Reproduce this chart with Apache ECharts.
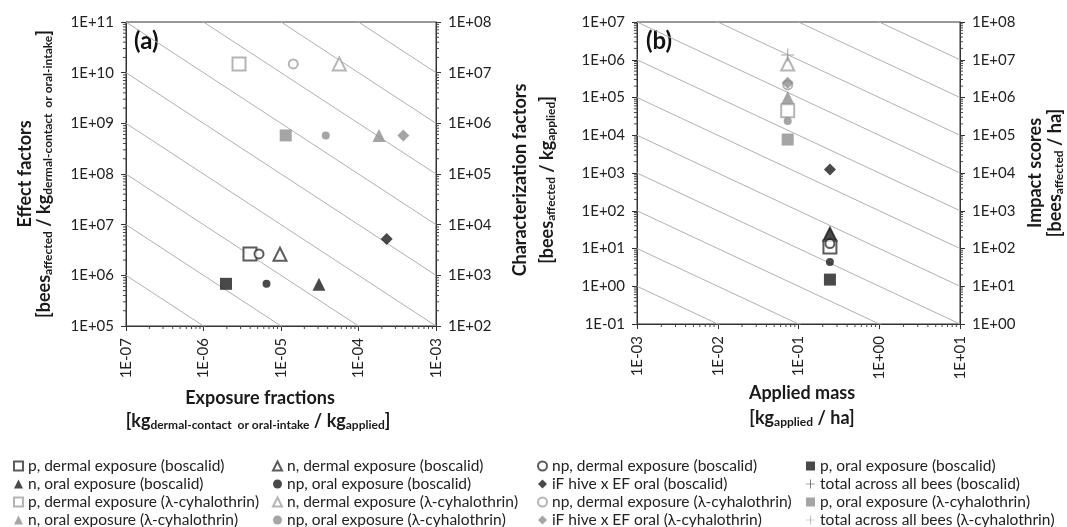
<!DOCTYPE html>
<html>
<head>
<meta charset="utf-8">
<script src="https://cdn.jsdelivr.net/npm/echarts@6/dist/echarts.min.js"></script>
<style>
  html, body { margin: 0; padding: 0; background: #fff; }
  #chart { width: 1067px; height: 527px; }
</style>
</head>
<body>
<div id="chart"></div>
<script>
// legend / series order (same for both substances)
const measures = [
    'p, dermal exposure',
    'n, dermal exposure',
    'np, dermal exposure',
    'p, oral exposure',
    'n, oral exposure',
    'np, oral exposure',
    'iF hive x EF oral',
    'total across all bees'
];
const substances = ['boscalid', 'λ-cyhalothrin'];

// panel (a): exposure fraction [kg/kg] vs effect factor
const exposureBoscalid = [3.98e-6, 9.7e-6, 5.2e-6, 1.95e-6, 3.09e-5, 6.5e-6, 2.31e-4, null];
const effectBoscalid = [2.65e6, 2.6e6, 2.65e6, 6.8e5, 6.7e5, 6.8e5, 5.2e6, null];
const exposureLambda = [2.87e-6, 5.65e-5, 1.44e-5, 1.15e-5, 1.84e-4, 3.78e-5, 3.79e-4, null];
const effectLambda = [1.49e10, 1.49e10, 1.49e10, 5.77e8, 5.77e8, 5.77e8, 5.77e8, null];

// panel (b): applied mass [kg/ha] vs characterization factor
const appliedBoscalid = 0.245;
const appliedLambda = 0.0735;
const charBoscalid = [1.1e1, 2.4e1, 1.35e1, 1.5, 2.5e1, 4.4, 1.24e3, null];
const charLambda = [4.44e4, 7.7e5, 2.15e5, 7.7e3, 1.0e5, 2.37e4, 2.45e5, 1.33e6];

// iso-lines (log10 of the product) drawn across each panel
const isoA = [-1, 0, 1, 2, 3, 4, 5, 6, 7];
const isoB = [-3, -2, -1, 0, 1, 2, 3, 4, 5, 6, 7];

// axis ranges
const xRangeA = [1e-7, 1e-3];
const yRangeA = [1e5, 1e11];
const y2RangeA = [1e2, 1e8];
const xRangeB = [1e-3, 1e1];
const yRangeB = [1e-1, 1e7];
const y2RangeB = [1e0, 1e8];

const plusPath = 'path://M4.6,0h0.8v10h-0.8z M0,4.6h10v0.8h-10z';
const symbols = ['emptyRect', 'emptyTriangle', 'emptyCircle', 'rect', 'triangle', 'circle', 'diamond', plusPath];
const symbolSizes = [13, 13, 9, 12, 13, 8, 12, 13];
const colors = { 'boscalid': '#1c1c1c', 'λ-cyhalothrin': '#8e8e8e' };
const openColors = { 'boscalid': '#333333', 'λ-cyhalothrin': '#a3a3a3' };

const FONT = 'Lato';

function expLabel(v) {
    const e = Math.round(Math.log10(v));
    return '1E' + (e < 0 ? '-' : '+') + String(Math.abs(e)).padStart(2, '0');
}

function logAxis(range, extra) {
    return Object.assign({
        type: 'log',
        logBase: 10,
        min: range[0],
        max: range[1],
        splitNumber: 10,
        axisLine: { show: true, onZero: false, lineStyle: { color: '#333', width: 1 } },
        axisTick: { show: true, length: 5, lineStyle: { color: '#333' } },
        splitLine: { show: false },
        axisLabel: { fontFamily: FONT, fontSize: 15, color: '#222', margin: 12, formatter: expLabel }
    }, extra);
}

// 2..9 x 10^n inside a range (for the minor tick marks)
function minorValues(range) {
    const out = [];
    const lo = Math.round(Math.log10(range[0]));
    const hi = Math.round(Math.log10(range[1]));
    for (let e = lo; e < hi; e++) {
        for (let m = 2; m <= 9; m++) out.push(m * Math.pow(10, e));
    }
    return out;
}

// minor ticks drawn through the axis scale (side: left / right / bottom)
function minorTickSeries(xIdx, yIdx, xr, yr, side) {
    const vals = side === 'bottom' ? minorValues(xr) : minorValues(yr);
    const data = vals.map(v => side === 'bottom' ? [v, yr[0]]
        : side === 'left' ? [xr[0], v] : [xr[1], v]);
    return {
        type: 'custom',
        silent: true,
        clip: false,
        z: 5,
        xAxisIndex: xIdx,
        yAxisIndex: yIdx,
        data: data,
        renderItem: (params, api) => {
            const p = api.coord([api.value(0), api.value(1)]);
            let shape;
            if (side === 'bottom') shape = { x1: p[0], y1: p[1], x2: p[0], y2: p[1] + 3 };
            else if (side === 'left') shape = { x1: p[0] - 3, y1: p[1], x2: p[0], y2: p[1] };
            else shape = { x1: p[0], y1: p[1], x2: p[0] + 3, y2: p[1] };
            return { type: 'line', shape: shape, style: { stroke: '#444', lineWidth: 1 } };
        }
    };
}

function isoSeries(exps, xr, gridIdx, yIdx) {
    return exps.map(k => ({
        type: 'line',
        silent: true,
        symbol: 'none',
        clip: true,
        z: 1,
        xAxisIndex: gridIdx,
        yAxisIndex: yIdx,
        lineStyle: { color: '#b0b0b0', width: 1 },
        data: [[xr[0], Math.pow(10, k) / xr[0]], [xr[1], Math.pow(10, k) / xr[1]]]
    }));
}

function pointSeries(sub, i, data, xIdx, yIdx) {
    const open = symbols[i].indexOf('empty') === 0;
    const c = open ? openColors[sub] : colors[sub];
    return {
        name: measures[i] + ' (' + sub + ')',
        type: 'scatter',
        xAxisIndex: xIdx,
        yAxisIndex: yIdx,
        symbol: symbols[i],
        symbolSize: symbolSizes[i],
        z: 3,
        itemStyle: open
            ? { color: c, borderColor: c, borderWidth: 1.3 }
            : { color: c, borderWidth: 0 },
        data: data
    };
}

const series = [];
series.push(...isoSeries(isoA, xRangeA, 0, 0));
series.push(...isoSeries(isoB, xRangeB, 1, 2));
series.push(minorTickSeries(0, 0, xRangeA, yRangeA, 'bottom'));
series.push(minorTickSeries(0, 0, xRangeA, yRangeA, 'left'));
series.push(minorTickSeries(0, 1, xRangeA, y2RangeA, 'right'));
series.push(minorTickSeries(1, 2, xRangeB, yRangeB, 'bottom'));
series.push(minorTickSeries(1, 2, xRangeB, yRangeB, 'left'));
series.push(minorTickSeries(1, 3, xRangeB, y2RangeB, 'right'));

substances.forEach(sub => {
    const ex = sub === 'boscalid' ? exposureBoscalid : exposureLambda;
    const ef = sub === 'boscalid' ? effectBoscalid : effectLambda;
    const cf = sub === 'boscalid' ? charBoscalid : charLambda;
    const m = sub === 'boscalid' ? appliedBoscalid : appliedLambda;
    measures.forEach((_, i) => {
        const a = ex[i] != null ? [[ex[i], ef[i]]] : [];
        const b = cf[i] != null ? [[m, cf[i]]] : [];
        if (a.length) series.push(pointSeries(sub, i, a, 0, 0));
        series.push(pointSeries(sub, i, b, 1, 2));
    });
});

// legend: four columns, read row by row
const allNames = [];
substances.forEach(sub => measures.forEach(mm => allNames.push(mm + ' (' + sub + ')')));
const colLeft = [13, 272, 537, 806];
const legends = colLeft.map((left, c) => ({
    orient: 'vertical',
    left: left,
    top: 458,
    height: 80,
    itemWidth: 9,
    itemHeight: 9,
    itemGap: 2,
    padding: 0,
    selectedMode: false,
    textStyle: { fontFamily: FONT, fontSize: 15.5, color: '#222', lineHeight: 16 },
    data: allNames.filter((_, idx) => idx % 4 === c)
}));

function titleText(x, y, text, rich, rot) {
    return {
        type: 'text',
        x: x,
        y: y,
        rotation: rot ? Math.PI / 2 : 0,
        silent: true,
        style: {
            text: text,
            rich: rich,
            align: 'center',
            verticalAlign: 'middle',
            fill: '#1a1a1a'
        }
    };
}

const richT = {
    t: { fontFamily: FONT, fontWeight: 'bold', fontSize: 18, lineHeight: 20, verticalAlign: 'middle', color: '#1a1a1a' },
    b: { fontFamily: FONT, fontWeight: 'bold', fontSize: 18, lineHeight: 20, verticalAlign: 'middle', color: '#1a1a1a' },
    s: { fontFamily: FONT, fontWeight: 'bold', fontSize: 12, lineHeight: 11, verticalAlign: 'bottom', color: '#1a1a1a' }
};

const option = {
    animation: false,
    backgroundColor: '#fff',
    grid: [
        { left: 126, right: 631, top: 22, bottom: 201, show: true, borderColor: '#333', borderWidth: 1 },
        { left: 637, right: 107, top: 22, bottom: 203, show: true, borderColor: '#333', borderWidth: 1 }
    ],
    xAxis: [
        logAxis(xRangeA, { gridIndex: 0, position: 'bottom', axisLabel: { fontFamily: FONT, fontSize: 15, color: '#222', margin: 12, rotate: 90, formatter: expLabel } }),
        logAxis(xRangeB, { gridIndex: 1, position: 'bottom', axisLabel: { fontFamily: FONT, fontSize: 15, color: '#222', margin: 12, rotate: 90, formatter: expLabel } })
    ],
    yAxis: [
        logAxis(yRangeA, { gridIndex: 0, position: 'left' }),
        logAxis(y2RangeA, { gridIndex: 0, position: 'right' }),
        logAxis(yRangeB, { gridIndex: 1, position: 'left' }),
        logAxis(y2RangeB, { gridIndex: 1, position: 'right' })
    ],
    legend: legends,
    graphic: [
        { type: 'text', left: 134, top: 29, silent: true, style: { text: '(a)', font: 'bold 24px Lato', fill: '#111' } },
        { type: 'text', left: 646, top: 29, silent: true, style: { text: '(b)', font: 'bold 24px Lato', fill: '#111' } },
        titleText(25, 174, '{t|Effect factors}', richT, true),
        titleText(44, 174, '{b|[bees}{s|affected}{b| / kg}{s|dermal-contact  or oral-intake}{b|]}', richT, true),
        titleText(520, 180, '{t|Characterization factors}', richT, true),
        titleText(547, 180, '{b|[bees}{s|affected}{b| / kg}{s|applied}{b|]}', richT, true),
        titleText(1035, 173, '{t|Impact scores}', richT, true),
        titleText(1055, 173, '{b|[bees}{s|affected}{b| / ha]}', richT, true),
        titleText(260, 398, '{t|Exposure fractions}', richT, false),
        titleText(258, 421, '{b|[kg}{s|dermal-contact  or oral-intake}{b| / kg}{s|applied}{b|]}', richT, false),
        titleText(802, 393, '{t|Applied mass}', richT, false),
        titleText(802, 418, '{b|[kg}{s|applied}{b| / ha]}', richT, false)
    ],
    series: series
};

const chart = echarts.init(document.getElementById('chart'), null, { renderer: 'canvas' });
chart.setOption(option);
window.addEventListener('resize', () => chart.resize());
</script>
</body>
</html>
